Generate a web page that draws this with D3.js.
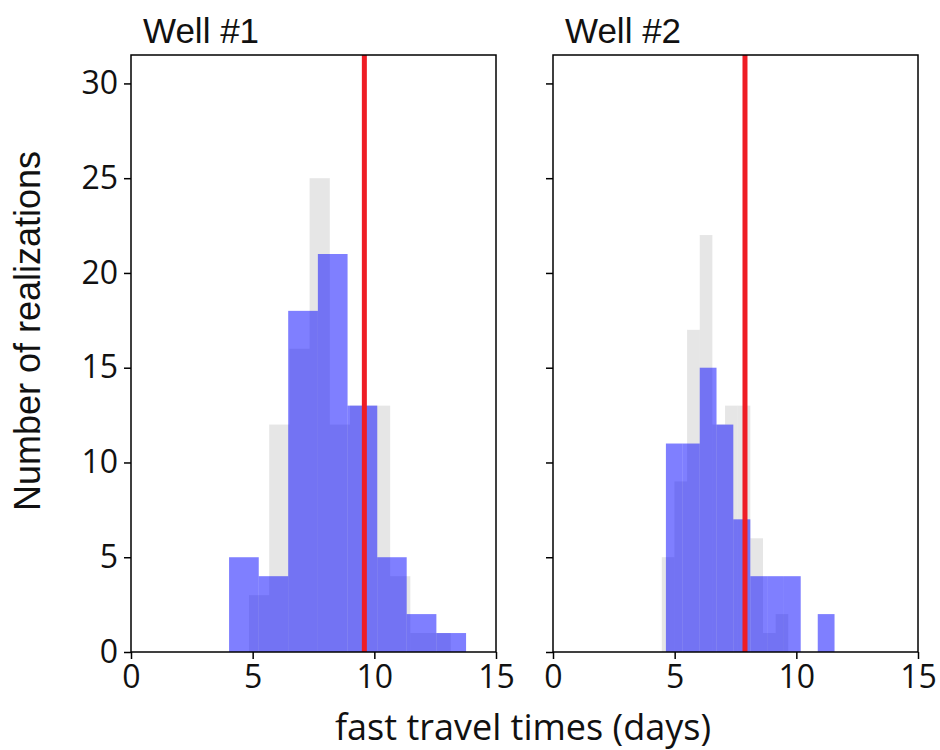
<!DOCTYPE html>
<html>
<head>
<meta charset="utf-8">
<script src="https://cdn.jsdelivr.net/npm/d3@7"></script>
<style>
  html, body { margin: 0; padding: 0; background: #fff; }
  svg { display: block; }
</style>
</head>
<body>
<svg id="chart" width="940" height="750"></svg>
<script>
// ---- data ----
const panelTitles = ["Well #1", "Well #2"];
const xTicks = [0, 5, 10, 15];
const yTicks = [0, 5, 10, 15, 20, 25, 30];

// Well #1
const w1GrayEdges = [4.85, 5.68, 6.51, 7.34, 8.17, 9.00, 9.83, 10.65, 11.48, 12.31, 13.14];
const w1GrayCounts = [3, 12, 16, 25, 12, 13, 13, 4, 1, 1];
const w1BlueEdges = [4.03, 5.25, 6.46, 7.68, 8.90, 10.12, 11.33, 12.55, 13.77];
const w1BlueCounts = [5, 4, 18, 21, 13, 5, 2, 1];
const w1Observed = 9.59;

// Well #2
const w2GrayEdges = [4.47, 4.99, 5.51, 6.03, 6.55, 7.07, 7.59, 8.11, 8.63, 9.15, 9.67];
const w2GrayCounts = [5, 9, 17, 22, 12, 13, 13, 6, 1, 2];
const w2BlueEdges = [4.64, 5.33, 6.03, 6.72, 7.41, 8.11, 8.80, 9.49, 10.18, 10.88, 11.57];
const w2BlueCounts = [11, 11, 15, 12, 7, 4, 4, 4, 0, 2];
const w2Observed = 7.89;

const panels = [
  { title: panelTitles[0], grayEdges: w1GrayEdges, grayCounts: w1GrayCounts,
    blueEdges: w1BlueEdges, blueCounts: w1BlueCounts, obs: w1Observed, left: 131, yLabels: true },
  { title: panelTitles[1], grayEdges: w2GrayEdges, grayCounts: w2GrayCounts,
    blueEdges: w2BlueEdges, blueCounts: w2BlueCounts, obs: w2Observed, left: 553, yLabels: false }
];

// ---- layout ----
const svg = d3.select("#chart");
const pw = 365, plotTop = 55, plotBottom = 652;
const y = d3.scaleLinear().domain([0, 31.5]).range([plotBottom, plotTop]);
const tickFont = "'Open Sans', sans-serif";
const textFont = "'Liberation Sans', Arial, Helvetica, sans-serif";

panels.forEach(p => {
  const x = d3.scaleLinear().domain([0, 15]).range([p.left, p.left + pw]);
  const g = svg.append("g");

  const bins = (edges, counts) => counts.map((c, i) => ({ x0: edges[i], x1: edges[i + 1], c }));

  g.selectAll("rect.gray").data(bins(p.grayEdges, p.grayCounts).filter(d => d.c > 0))
    .join("rect").attr("class", "gray")
    .attr("x", d => x(d.x0)).attr("width", d => x(d.x1) - x(d.x0))
    .attr("y", d => y(d.c)).attr("height", d => y(0) - y(d.c))
    .attr("fill", "gray").attr("fill-opacity", 0.2);

  g.selectAll("rect.blue").data(bins(p.blueEdges, p.blueCounts).filter(d => d.c > 0))
    .join("rect").attr("class", "blue")
    .attr("x", d => x(d.x0)).attr("width", d => x(d.x1) - x(d.x0))
    .attr("y", d => y(d.c)).attr("height", d => y(0) - y(d.c))
    .attr("fill", "blue").attr("fill-opacity", 0.5);

  g.append("line")
    .attr("x1", x(p.obs)).attr("x2", x(p.obs))
    .attr("y1", y(31.5)).attr("y2", y(0))
    .attr("stroke", "#ee1d25").attr("stroke-width", 5);

  // frame
  g.append("rect")
    .attr("x", p.left).attr("y", plotTop).attr("width", pw).attr("height", plotBottom - plotTop)
    .attr("fill", "none").attr("stroke", "#000").attr("stroke-width", 1.5);

  // axes
  const xAxis = d3.axisBottom(x).tickValues(xTicks).tickSize(7).tickPadding(6);
  const gx = g.append("g").attr("transform", `translate(0,${plotBottom})`).call(xAxis);
  const yAxis = d3.axisLeft(y).tickValues(yTicks).tickSize(7).tickPadding(6);
  if (!p.yLabels) yAxis.tickFormat(() => "");
  const gy = g.append("g").attr("transform", `translate(${p.left},0)`).call(yAxis);

  [gx, gy].forEach(a => {
    a.select(".domain").remove();
    a.selectAll(".tick line").attr("stroke", "#000").attr("stroke-width", 1.5);
    a.selectAll(".tick text").attr("fill", "#111")
      .style("font-family", tickFont).style("font-size", "32px");
  });

  g.append("text")
    .attr("x", p.left + 12).attr("y", 43)
    .style("font-family", textFont).style("font-size", "35px").attr("fill", "#111")
    .text(p.title);
});

svg.append("text")
  .attr("transform", "translate(40,331) rotate(-90)")
  .attr("text-anchor", "middle")
  .style("font-family", textFont).style("font-size", "36px").attr("fill", "#111")
  .text("Number of realizations");

svg.append("text")
  .attr("x", 523).attr("y", 740)
  .attr("text-anchor", "middle")
  .style("font-family", tickFont).style("font-size", "36px").attr("fill", "#111")
  .text("fast travel times (days)");
</script>
</body>
</html>
